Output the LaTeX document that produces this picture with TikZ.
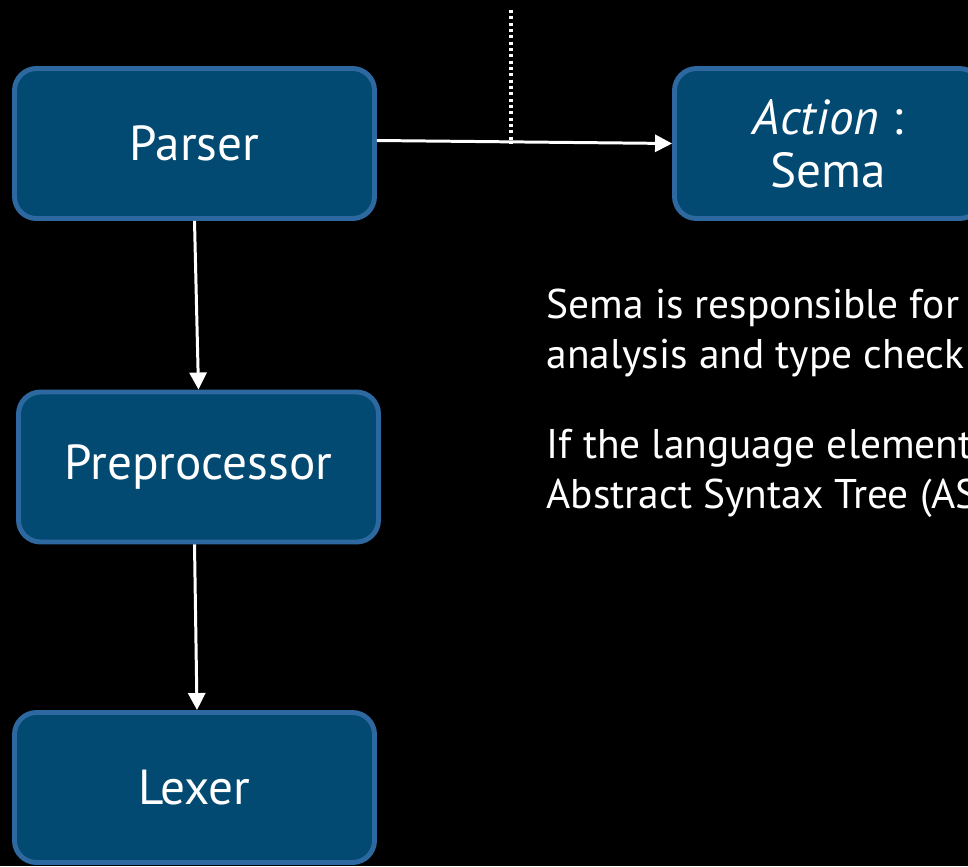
\documentclass[tikz,border=0pt]{standalone}
\usepackage{fontspec}
\setmainfont{PT Sans}
\usetikzlibrary{arrows.meta}
\definecolor{boxfill}{RGB}{3,74,115}
\definecolor{boxline}{RGB}{45,105,160}
\begin{document}
\begin{tikzpicture}[>={Triangle[length=0.17cm,width=0.17cm]},
    stage/.style={draw=boxline, fill=boxfill, line width=1.4pt, rounded corners=0.22cm,
      minimum width=3.6cm, minimum height=1.5cm, inner sep=0pt,
      text=white, align=center, font=\fontsize{14}{15}\selectfont},
    flow/.style={white, line width=0.85pt, ->},
    note/.style={white, align=left, anchor=base west, inner sep=0pt,
      font=\fontsize{11.8}{14.2}\selectfont}]
  \fill[black] (0,0) rectangle (9.68,-8.66);
  \useasboundingbox (0,0) rectangle (9.68,-8.66);
  % pipeline boxes
  \node[stage] (parser) at (1.945,-1.435) {Parser};
  \node[stage] (prep) at (1.985,-4.67) {Preprocessor};
  \node[stage] (lexer) at (1.945,-7.875) {Lexer};
  \node[stage, minimum width=3.07cm] (sema) at (8.28,-1.435) {\textit{Action} :\\Sema};
  % connectors
  \draw[flow] (parser.south) -- (prep.north);
  \draw[flow] ([xshift=-0.04cm]prep.south) -- ([xshift=0.025cm]lexer.north);
  \draw[flow] ([yshift=0.03cm]parser.east) -- (sema.west);
  \coordinate (tap) at (5.11,-0.10);
  \draw[white, line width=0.9pt, dash pattern=on 0.9pt off 0.9pt] (tap) -- (tap |- parser.east);
  % notes (base = last line)
  \node[note] (note1) at (5.46,-3.68) {Sema is responsible for\\analysis and type check};
  \node[note] (note2) at (5.46,-5.08) {If the language element\\Abstract Syntax Tree (AS};
\end{tikzpicture}
\end{document}
